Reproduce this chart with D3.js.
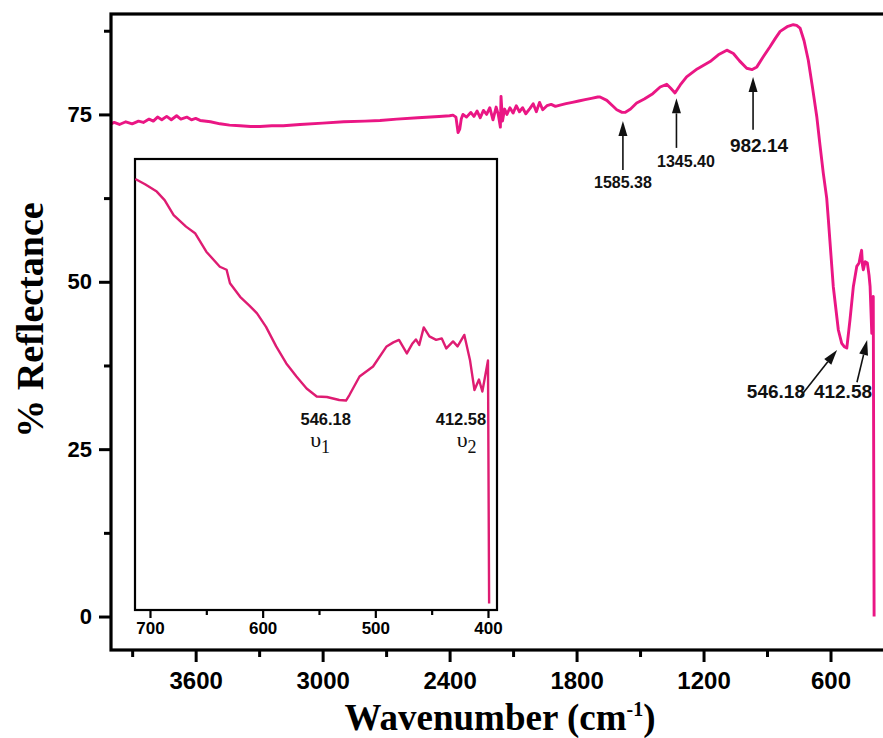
<!DOCTYPE html>
<html>
<head>
<meta charset="utf-8">
<script src="https://cdn.jsdelivr.net/npm/d3@7/dist/d3.min.js"></script>
<style>
    body { margin:0; background:#fff; }
    svg { display:block; }
    .tick text { font-family:'Liberation Sans', Arial, sans-serif; font-weight:bold; fill:#000; }
    .tick line { stroke:#000; }
    .note { font-family:'Liberation Sans', Arial, sans-serif; font-weight:bold; fill:#111; }
    .title { font-family:'Liberation Serif', 'Times New Roman', serif; font-weight:bold; fill:#000; }
    .greek { font-family:'Liberation Serif', 'Times New Roman', serif; fill:#111; }
</style>
</head>
<body>
<svg id="chart" width="883" height="738"></svg>
<script>
(function(window) {
    'use strict';

    // main spectrum (wavenumber cm-1, % reflectance)
    var wavenumber = [4000,3985,3960,3930,3900,3870,3847,3820,3800,3780,3760,3737,3715,3690,3670,3642,3620,3600,3579,3530,
        3485,3440,3390,3340,3296,3240,3186,3107,3000,2900,2800,2729,2650,2550,2450,2400,2384,2370,2360,2352,
        2345,2337,2320,2300,2285,2270,2255,2240,2225,2210,2195,2180,2170,2160,2157,2150,2140,2129,2115,2100,
        2085,2070,2055,2040,2020,2005,1990,1975,1960,1940,1920,1900,1878,1850,1820,1790,1760,1730,1700,1689,
        1657,1630,1610,1585,1571,1545,1516,1480,1440,1405,1374,1355,1335,1310,1280,1230,1169,1130,1090,1059,
        1030,996,970,948,920,886,860,838,805,776,760,744,725,705,685,665,650,634,618,610,
        587,563,547,535,523,508,492,476,465,458,453,449,445,436,426,418,413,405,398,394];
    var reflectance = [73.6,73.8,73.5,73.9,73.6,74.0,73.8,74.3,74.0,74.6,74.2,74.7,74.2,74.8,74.3,74.6,74.2,74.4,74.1,73.9,
        73.6,73.4,73.3,73.2,73.2,73.3,73.3,73.5,73.7,73.9,74.0,74.1,74.3,74.5,74.7,74.8,74.9,74.6,72.3,72.8,
        74.3,75.0,74.6,75.3,74.7,75.5,74.5,75.6,75.0,76.0,74.2,76.1,75.0,73.1,77.7,74.0,75.8,75.0,76.0,75.2,
        76.3,75.4,76.0,75.1,75.9,76.6,75.4,76.8,75.7,76.3,76.5,76.2,76.4,76.6,76.8,77.0,77.2,77.4,77.6,77.6,
        77.1,76.3,75.7,75.3,75.3,75.8,76.7,77.3,78.1,79.1,79.5,78.9,78.2,79.4,80.6,81.8,82.9,83.9,84.6,84.1,
        83.0,81.9,81.7,82.1,83.5,85.1,86.4,87.4,88.1,88.4,88.3,87.9,86.0,83.1,79.0,74.7,70.5,66.2,62.5,59.2,
        49.3,42.8,40.8,40.3,40.1,44.3,49.3,52.3,52.8,54.0,54.7,52.5,51.8,53.0,52.8,51.0,49.3,42.3,47.8,0];

    // inset: 700-400 cm-1 region
    var insetWavenumber = [713,704,694,687,679,668,660,650,638,632,629,620,612,605,597,588,579,570,561,552,
        543,532,526,523,514,502,490,484,479,472,467,464,461,457,452,446,441,437,431,427,
        421,416,412,408,405,400,399];
    var insetReflectance = [86.0,84.9,83.5,81.8,78.8,76.5,75.2,71.5,68.5,67.9,65.2,62.5,60.8,59.2,56.5,52.6,49.2,46.6,44.2,42.6,
        42.5,41.9,41.8,42.9,46.6,48.6,52.6,53.4,53.9,51.2,53.2,54.0,52.9,56.4,54.6,53.9,54.2,52.2,53.6,52.6,
        54.9,49.9,43.9,46.0,43.6,49.8,1.3];

    var xTicks = [3600,3000,2400,1800,1200,600],
        xMinor = [3900,3300,2700,2100,1500,900],
        yTicks = [0,25,50,75],
        yMinor = [12.5,37.5,62.5,87.5],
        insetTicks = [700,600,500,400],
        insetMinor = [650,550,450];

    // arrows: [label, arrow x, tip y, tail x, tail y, label x, label y, font size]
    var peaks = [
        ['1585.38', 1581, 74.0, 1581, 66.7, 1581, 64.0, 16],
        ['1345.40', 1328, 77.4, 1328, 70.0, 1283, 67.1, 16],
        ['982.14',   966, 80.6,  966, 72.7,  938, 69.4, 19],
        ['546.18',   569, 39.8,  744, 32.8,  858, 32.6, 19],
        ['412.58',   427, 41.3,  475, 35.0,  541, 32.6, 19]
    ];
    // inset labels: [label, subscript, label x, label y, nu x, nu y]
    var insetNotes = [
        ['546.18', '1', 544, 36.9, 549, 32.5],
        ['412.58', '2', 424, 36.9, 419, 32.5]
    ];

    var W = 883, H = 738;
    var svg = d3.select('#chart');

    var x = d3.scaleLinear().domain([4000, 300]).range([111, 894]),
        y = d3.scaleLinear().domain([-5, 90]).range([650, 14]);

    var line = d3.line()
        .x(function(d){ return x(d[0]); })
        .y(function(d){ return y(d[1]); });

    svg.append('path')
        .datum(d3.zip(wavenumber, reflectance))
        .attr('d', line)
        .attr('fill', 'none')
        .attr('stroke', '#ea1684')
        .attr('stroke-width', 2.9)
        .attr('stroke-linejoin', 'round');

    /******************************************************************
        main axes
     ******************************************************************/
    function styleAxis(g, width) {
        g.select('.domain').remove();
        g.selectAll('.tick line').attr('stroke-width', width);
    }

    svg.append('g')
        .attr('transform', 'translate(0,650)')
        .call(d3.axisBottom(x).tickValues(xTicks).tickSize(12).tickPadding(10).tickFormat(d3.format('d')))
        .call(styleAxis, 3)
        .selectAll('text').style('font-size', '24px');

    svg.append('g')
        .attr('transform', 'translate(0,650)')
        .call(d3.axisBottom(x).tickValues(xMinor).tickSize(7).tickFormat(''))
        .call(styleAxis, 3);

    svg.append('g')
        .attr('transform', 'translate(111,0)')
        .call(d3.axisLeft(y).tickValues(yTicks).tickSize(12).tickPadding(7).tickFormat(d3.format('d')))
        .call(styleAxis, 3)
        .selectAll('text').style('font-size', '22px');

    svg.append('g')
        .attr('transform', 'translate(111,0)')
        .call(d3.axisLeft(y).tickValues(yMinor).tickSize(7).tickFormat(''))
        .call(styleAxis, 3);

    svg.append('rect')
        .attr('x', x(4000)).attr('y', y(90))
        .attr('width', x(300) - x(4000))
        .attr('height', y(-5) - y(90))
        .attr('fill', 'none')
        .attr('stroke', '#000')
        .attr('stroke-width', 3.2);

    /******************************************************************
        peak arrows
     ******************************************************************/
    function arrow(g, x0, y0, x1, y1, len, half) {
        var a = Math.atan2(y1 - y0, x1 - x0),
            bx = x1 - len * Math.cos(a), by = y1 - len * Math.sin(a),
            px = -Math.sin(a) * half, py = Math.cos(a) * half;

        g.append('line')
            .attr('x1', x0).attr('y1', y0).attr('x2', bx).attr('y2', by)
            .attr('stroke', '#111').attr('stroke-width', 1.6);

        g.append('path')
            .attr('d', 'M' + [x1, y1] + 'L' + [bx + px, by + py] + 'L' + [bx - px, by - py] + 'Z')
            .attr('fill', '#111');
    }

    var notes = svg.append('g');
    peaks.forEach(function(p) {
        arrow(notes, x(p[3]), y(p[4]), x(p[1]), y(p[2]), 15, 4.5);
        notes.append('text')
            .attr('class', 'note')
            .attr('x', x(p[5])).attr('y', y(p[6]))
            .attr('text-anchor', 'middle')
            .style('font-size', p[7] + 'px')
            .text(p[0]);
    });

    /******************************************************************
        inset
     ******************************************************************/
    var ix = d3.scaleLinear().domain([713.3, 392]).range([135, 497]),
        iy = d3.scaleLinear().domain([0, 90]).range([610, 159]);

    var inset = svg.append('g');

    inset.append('rect')
        .attr('x', ix(713.3)).attr('y', iy(90))
        .attr('width', ix(392) - ix(713.3))
        .attr('height', iy(0) - iy(90))
        .attr('fill', '#fff')
        .attr('stroke', '#000')
        .attr('stroke-width', 2.2);

    inset.append('path')
        .datum(d3.zip(insetWavenumber, insetReflectance))
        .attr('d', d3.line()
            .x(function(d){ return ix(d[0]); })
            .y(function(d){ return iy(d[1]); }))
        .attr('fill', 'none')
        .attr('stroke', '#de1c72')
        .attr('stroke-width', 2.4)
        .attr('stroke-linejoin', 'round');

    inset.append('g')
        .attr('transform', 'translate(0,610)')
        .call(d3.axisBottom(ix).tickValues(insetTicks).tickSize(8).tickPadding(4).tickFormat(d3.format('d')))
        .call(styleAxis, 2.2)
        .selectAll('text').style('font-size', '17px');

    inset.append('g')
        .attr('transform', 'translate(0,610)')
        .call(d3.axisBottom(ix).tickValues(insetMinor).tickSize(5).tickFormat(''))
        .call(styleAxis, 2.2);

    insetNotes.forEach(function(n) {
        inset.append('text')
            .attr('class', 'note')
            .attr('x', ix(n[2])).attr('y', iy(n[3]))
            .attr('text-anchor', 'middle')
            .style('font-size', '16.5px')
            .text(n[0]);

        var t = inset.append('text')
            .attr('class', 'greek')
            .attr('x', ix(n[4])).attr('y', iy(n[5]))
            .attr('text-anchor', 'middle')
            .style('font-size', '22px');
        t.append('tspan').text('\u03c5');
        t.append('tspan').attr('dy', 6).style('font-size', '18px').text(n[1]);
    });

    /******************************************************************
        axis titles
     ******************************************************************/
    var xt = svg.append('text')
        .attr('class', 'title')
        .attr('x', 500).attr('y', 730)
        .attr('text-anchor', 'middle')
        .style('font-size', '37px');
    xt.append('tspan').text('Wavenumber (cm');
    xt.append('tspan').attr('dy', -14).style('font-size', '20px').text('-1');
    xt.append('tspan').attr('dy', 14).text(')');

    svg.append('text')
        .attr('class', 'title')
        .attr('transform', 'translate(43,320) rotate(-90)')
        .attr('text-anchor', 'middle')
        .style('font-size', '38px')
        .text('% Reflectance');

})(window);
</script>
</body>
</html>
